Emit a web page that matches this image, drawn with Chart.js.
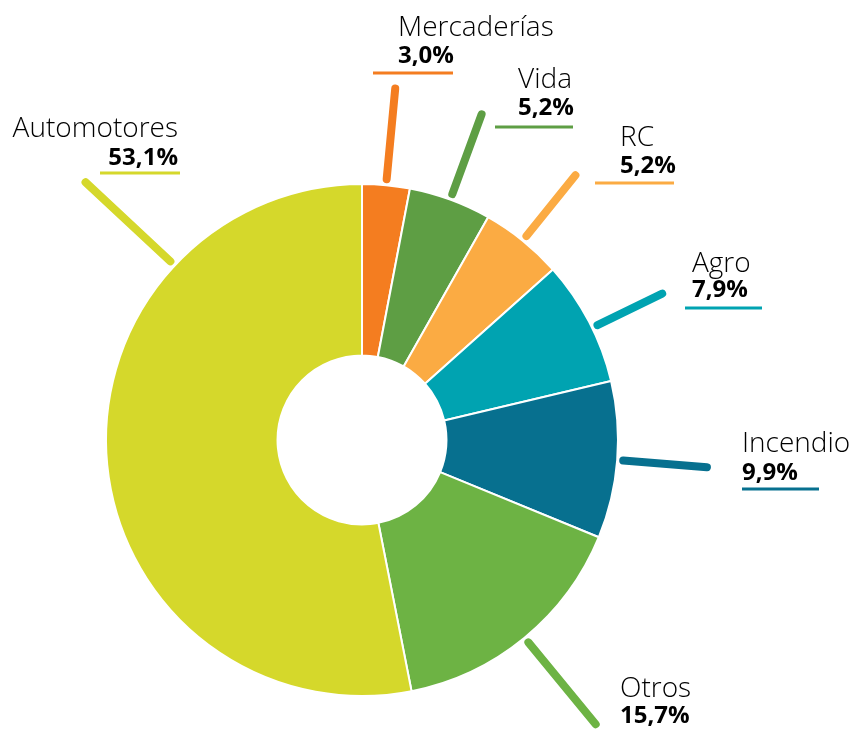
<!DOCTYPE html>
<html>
<head>
<meta charset="utf-8">
<script src="https://cdn.jsdelivr.net/npm/chart.js@4.4.0/dist/chart.umd.min.js"></script>
<style>
  html, body { margin: 0; padding: 0; background: #fff; }
  #wrap { width: 853px; height: 733px; }
</style>
</head>
<body>
<div id="wrap"><canvas id="chart" width="853" height="733"></canvas></div>
<script>
// Datos: cartera por ramo (%)
var ramos = ['Mercaderías', 'Vida', 'RC', 'Agro', 'Incendio', 'Otros', 'Automotores'];
var porcentajes = [3.0, 5.2, 5.2, 7.9, 9.9, 15.7, 53.1];
var colores = ['#F47D20', '#5E9E44', '#FBAB43', '#00A3B1', '#07708F', '#6DB344', '#D5D82B'];

// Ubicación de etiquetas (texto y subrayado), por ramo
var etiquetas = [
    { x: 398, yName: 36,  yPct: 63,  align: 'left',  line: [373, 453, 73] },
    { x: 518, yName: 88,  yPct: 115, align: 'left',  line: [495, 573, 127] },
    { x: 620, yName: 146, yPct: 173, align: 'left',  line: [595, 674, 183] },
    { x: 692, yName: 272, yPct: 297, align: 'left',  line: [685, 762, 308] },
    { x: 742, yName: 452, yPct: 480, align: 'left',  line: [742, 819, 489] },
    { x: 620, yName: 697, yPct: 723, align: 'left',  line: null },
    { x: 178, yName: 137, yPct: 165, align: 'right', line: [100, 180, 173] }
];
// Largo de las guías y ángulo forzado (grados desde arriba, horario)
var guias = [
    { len: 97 }, { len: 91 }, { len: 84 }, { len: 78, angle: 64 },
    { len: 90 }, { len: 112 }, { len: 122, angle: 313 }
];

function fmt(v) {
    return v.toFixed(1).replace('.', ',') + '%';
}

var leaderPlugin = {
    id: 'leaders',
    afterDatasetsDraw: function(chart) {
        var ctx = chart.ctx;
        var meta = chart.getDatasetMeta(0);
        meta.data.forEach(function(arc, i) {
            var g = guias[i];
            var a = (arc.startAngle + arc.endAngle) / 2;
            if (g.angle !== undefined) {
                a = g.angle * Math.PI / 180 - Math.PI / 2;
            }
            var r0 = arc.outerRadius + 6;
            var r1 = arc.outerRadius + g.len;
            ctx.save();
            ctx.strokeStyle = colores[i];
            ctx.lineWidth = 8;
            ctx.lineCap = 'round';
            ctx.beginPath();
            ctx.moveTo(arc.x + Math.cos(a) * r0, arc.y + Math.sin(a) * r0);
            ctx.lineTo(arc.x + Math.cos(a) * r1, arc.y + Math.sin(a) * r1);
            ctx.stroke();

            var lab = etiquetas[i];
            ctx.fillStyle = '#000000';
            ctx.textAlign = lab.align;
            ctx.textBaseline = 'alphabetic';
            ctx.font = '300 28px "Open Sans"';
            ctx.fillText(ramos[i], lab.x, lab.yName);
            ctx.font = 'bold 24px "Open Sans"';
            ctx.fillText(fmt(porcentajes[i]), lab.x, lab.yPct);

            if (lab.line) {
                ctx.lineWidth = 3;
                ctx.lineCap = 'butt';
                ctx.beginPath();
                ctx.moveTo(lab.line[0], lab.line[2]);
                ctx.lineTo(lab.line[1], lab.line[2]);
                ctx.stroke();
            }
            ctx.restore();
        });
    }
};

new Chart(document.getElementById('chart'), {
    type: 'doughnut',
    data: {
        labels: ramos,
        datasets: [{
            data: porcentajes,
            backgroundColor: colores,
            borderColor: '#ffffff',
            borderWidth: 2
        }]
    },
    options: {
        responsive: false,
        animation: false,
        cutout: '33%',
        layout: {
            padding: { left: 105, top: 183, right: 234, bottom: 36 }
        },
        plugins: {
            legend: { display: false },
            tooltip: { enabled: false }
        }
    },
    plugins: [leaderPlugin]
});
</script>
</body>
</html>
